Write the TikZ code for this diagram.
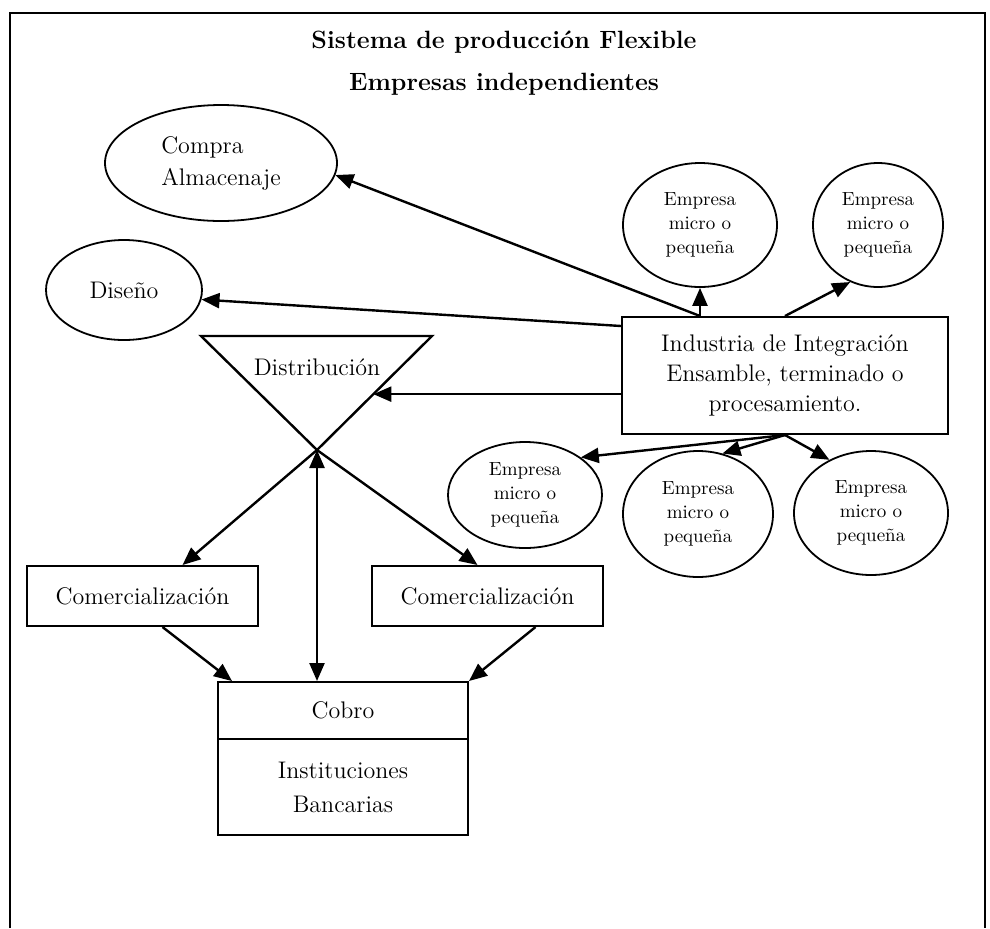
\documentclass[tikz,border=0pt]{standalone}
\usepackage{tikz}
\usetikzlibrary{arrows.meta, calc, shapes.geometric}
\tikzset{
  caja/.style = {draw, line width=1pt, rectangle, inner sep=2pt,
                 align=center, font=\fontsize{12}{16}\selectfont},
  elip/.style = {draw, line width=0.9pt, ellipse, inner sep=0pt,
                 align=center, font=\fontsize{12}{16}\selectfont},
  emp/.style  = {elip, font=\fontsize{9.5}{12}\selectfont},
  arr/.style  = {-{Triangle[length=9pt,width=7.5pt]}, line width=1.2pt},
  darr/.style = {{Triangle[length=9pt,width=7.5pt]}-{Triangle[length=9pt,width=7.5pt]},
                 line width=1.2pt},
}

\begin{document}
\begin{tikzpicture}[x=0.5pt, y=-0.5pt]
\useasboundingbox (0,0) rectangle (990,928);

%%──────────────────────────────────────────────────
%% Frame and title
%%──────────────────────────────────────────────────
\draw[line width=1pt] (10,928) -- (10,13) -- (985,13) -- (985,928);
\node[font=\fontsize{12.5}{21}\selectfont\bfseries, align=center] (titulo) at (504,63)
  {Sistema de producción Flexible\\Empresas independientes};

%%──────────────────────────────────────────────────
%% Left side: purchase, design, distribution
%%──────────────────────────────────────────────────
\node[elip, minimum width=116pt, minimum height=58pt, align=left] (compra) at (221,163)
  {Compra\\Almacenaje};
\node[elip, minimum width=78pt, minimum height=50pt] (diseno) at (124,290) {Diseño};

\coordinate (tl)   at (201,336);
\coordinate (tr)   at (432,336);
\coordinate (apex) at (317,450);
\draw[line width=1.2pt] (tl) -- (tr) -- (apex) -- cycle;
\node[font=\fontsize{12}{16}\selectfont] (distrib) at (317,367) {Distribución};
\coordinate (dR) at ($(tr)!0.51!(apex)$);

\node[caja, minimum width=115.5pt, minimum height=30pt] (comL) at (142.5,596)
  {Comercialización};
\node[caja, minimum width=115.5pt, minimum height=30pt] (comR) at (487.5,596)
  {Comercialización};

\node[caja, minimum width=125pt, minimum height=28.5pt] (cobro) at (343,710.5) {Cobro};
\node[caja, minimum width=125pt, minimum height=48pt,
      font=\fontsize{12}{17}\selectfont] (bancos) at (343,787)
  {Instituciones\\Bancarias};

%%──────────────────────────────────────────────────
%% Right side: integrating industry and small firms
%%──────────────────────────────────────────────────
\node[caja, minimum width=163pt, minimum height=58.5pt,
      font=\fontsize{12}{15}\selectfont] (industria) at (785,375.5)
  {Industria de Integración\\Ensamble, terminado o\\procesamiento.};

\node[emp, minimum width=77pt, minimum height=62pt] (e1) at (700,225)
  {Empresa\\micro o\\pequeña};
\node[emp, minimum width=65pt, minimum height=62pt] (e2) at (878,225)
  {Empresa\\micro o\\pequeña};
\node[emp, minimum width=77pt, minimum height=53pt] (e3) at (525,495)
  {Empresa\\micro o\\pequeña};
\node[emp, minimum width=75pt, minimum height=63pt] (e4) at (698,514)
  {Empresa\\micro o\\pequeña};
\node[emp, minimum width=77pt, minimum height=62pt] (e5) at (871,513)
  {Empresa\\micro o\\pequeña};

%% Arrows out of the industry box
\draw[arr] (e1 |- industria.north) -- (e1.south);
\draw[arr] (e1 |- industria.north) -- (compra.-6);
\draw[arr] (industria.north) -- (e2.244);
\draw[arr] ($(industria.north west)+(0,10)$) -- (diseno.-7);
\draw[arr] (industria.west |- dR) -- (dR);
\draw[arr] (industria.south) -- (e3.34);
\draw[arr] (industria.south) -- (e4.68);
\draw[arr] (industria.south) -- (e5.128);

%% Distribution to sales and collection
\draw[arr]  (apex) -- ($(comL.north)+(40,0)$);
\draw[arr]  (apex) -- ($(comR.north)+(-10,0)$);
\draw[darr] (apex) -- (apex |- cobro.north);
\draw[arr]  ($(comL.south)+(20,0)$) -- ($(cobro.north west)+(15,0)$);
\draw[arr]  ($(comR.south)+(48,0)$) -- (cobro.north east);

\end{tikzpicture}
\end{document}
